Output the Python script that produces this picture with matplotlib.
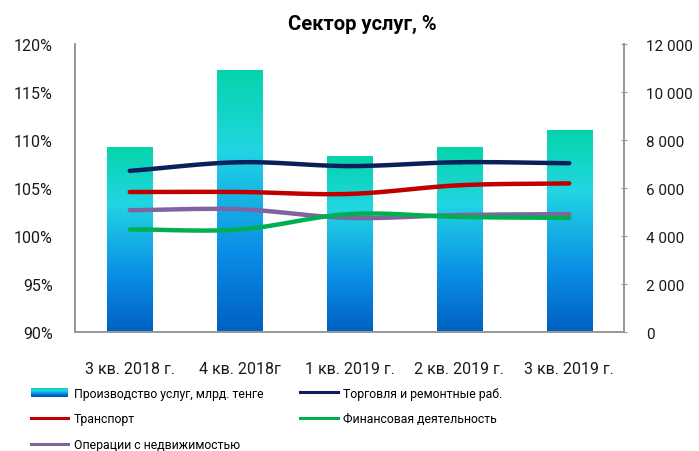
import numpy as np
import matplotlib.pyplot as plt
from matplotlib.colors import LinearSegmentedColormap
from matplotlib.patches import Rectangle
from matplotlib.legend_handler import HandlerBase
from matplotlib.ticker import FuncFormatter

plt.rcParams['font.family'] = ['Roboto', 'DejaVu Sans']

# data
quarters = ['3 кв. 2018 г.', '4 кв. 2018г', '1 кв. 2019 г.', '2 кв. 2019 г.', '3 кв. 2019 г.']
services = [7670, 10900, 7330, 7700, 8400]          # млрд. тенге, right axis
trade = [106.8, 107.7, 107.3, 107.7, 107.6]         # %
transport = [104.6, 104.6, 104.4, 105.3, 105.5]
finance = [100.7, 100.7, 102.3, 102.0, 101.9]
realty = [102.7, 102.8, 101.9, 102.2, 102.3]

names = ['Производство услуг, млрд. тенге', 'Торговля и ремонтные раб.',
         'Транспорт', 'Финансовая деятельность', 'Операции с недвижимостью']

grad = LinearSegmentedColormap.from_list(
    'svc', [(0.0, '#0060c0'), (0.3, '#0a8de6'), (0.7, '#22d6e2'), (1.0, '#04d4aa')])


def smooth(xs, ys, n=30):
    # catmull-rom curve through the points, like Excel smoothed lines
    xs = np.asarray(xs, float)
    ys = np.asarray(ys, float)
    px = np.concatenate([[2 * xs[0] - xs[1]], xs, [2 * xs[-1] - xs[-2]]])
    py = np.concatenate([[2 * ys[0] - ys[1]], ys, [2 * ys[-1] - ys[-2]]])
    ox, oy = [], []
    t = np.linspace(0, 1, n)
    for i in range(1, len(px) - 2):
        for p, o in ((px, ox), (py, oy)):
            p0, p1, p2, p3 = p[i - 1], p[i], p[i + 1], p[i + 2]
            o.extend(0.5 * (2 * p1 + (-p0 + p2) * t + (2 * p0 - 5 * p1 + 4 * p2 - p3) * t ** 2
                            + (-p0 + 3 * p1 - 3 * p2 + p3) * t ** 3))
    return np.array(ox), np.array(oy)


class GradHandler(HandlerBase):
    def create_artists(self, legend, orig, x0, y0, width, height, fontsize, trans):
        arts = []
        k = 8
        for i in range(k):
            r = Rectangle((x0, y0 + height * i / k), width, height / k + 0.3,
                          facecolor=grad(i / (k - 1)), edgecolor='none', transform=trans)
            arts.append(r)
        return arts


fig = plt.figure(figsize=(6.99, 4.52), dpi=100)
ax = fig.add_axes([0.107, 0.263, 0.786, 0.637])
ax2 = ax.twinx()

x = np.arange(len(quarters))
bw = 0.41
ax2.set_ylim(0, 12000)
ax.set_ylim(90, 120)
ax.set_xlim(-0.5, len(quarters) - 0.5)

bars = ax2.bar(x, services, width=bw, color='none', edgecolor='none')
img = np.linspace(0, 1, 256).reshape(-1, 1)
for b in bars:
    bx, by, bwid, bh = b.get_x(), b.get_y(), b.get_width(), b.get_height()
    ax2.imshow(img, cmap=grad, origin='lower', aspect='auto',
               extent=[bx, bx + bwid, by, by + bh], zorder=1)
ax2.set_xlim(-0.5, len(quarters) - 0.5)
ax2.set_ylim(0, 12000)

# lines drawn above bars
ax.set_zorder(ax2.get_zorder() + 1)
ax.patch.set_visible(False)
series = [(trade, '#0b1f5c'), (transport, '#c00000'), (realty, '#8064a2'), (finance, '#00b050')]
lines = []
for ys, c in series:
    sx, sy = smooth(x, ys)
    ln, = ax.plot(sx, sy, color=c, lw=3.2, solid_capstyle='round')
    lines.append(ln)

ax.set_yticks(np.arange(90, 121, 5))
ax.yaxis.set_major_formatter(FuncFormatter(lambda v, p: f'{v:.0f}%'))
ax2.set_yticks(np.arange(0, 12001, 2000))
ax2.yaxis.set_major_formatter(FuncFormatter(lambda v, p: f'{v:,.0f}'.replace(',', ' ')))
ax.set_xticks(x)
ax.set_xticklabels(quarters)

for a in (ax, ax2):
    a.spines['top'].set_visible(False)
    for s in ('left', 'right', 'bottom'):
        a.spines[s].set_color('#999999')
        a.spines[s].set_linewidth(1.3)
ax.tick_params(axis='y', length=0, pad=16, labelsize=11.5, colors='#1a1a1a')
ax.tick_params(axis='x', length=0, pad=21, labelsize=11.5, colors='#1a1a1a')
ax2.tick_params(axis='y', length=4, direction='inout', pad=14, labelsize=11,
                colors='#1a1a1a', color='#999999')

fig.text(0.519, 0.945, 'Сектор услуг, %', ha='center', va='center',
         fontsize=14.5, fontweight='bold')

# thinner proxies for the legend
leg_lines = [plt.Line2D([], [], color=l.get_color(), lw=2.2) for l in lines]
handles = [bars, leg_lines[1], leg_lines[2], leg_lines[0], leg_lines[3]]
labels = [names[0], names[2], names[4], names[1], names[3]]
fig.legend(handles, labels, ncol=2, loc='upper left', bbox_to_anchor=(0.028, 0.167),
           frameon=False, fontsize=8.8, handlelength=3.1, handleheight=0.7,
           columnspacing=3.0, labelspacing=1.05, handletextpad=0.42,
           handler_map={type(bars): GradHandler()})

fig.savefig('out.png', dpi=100)
